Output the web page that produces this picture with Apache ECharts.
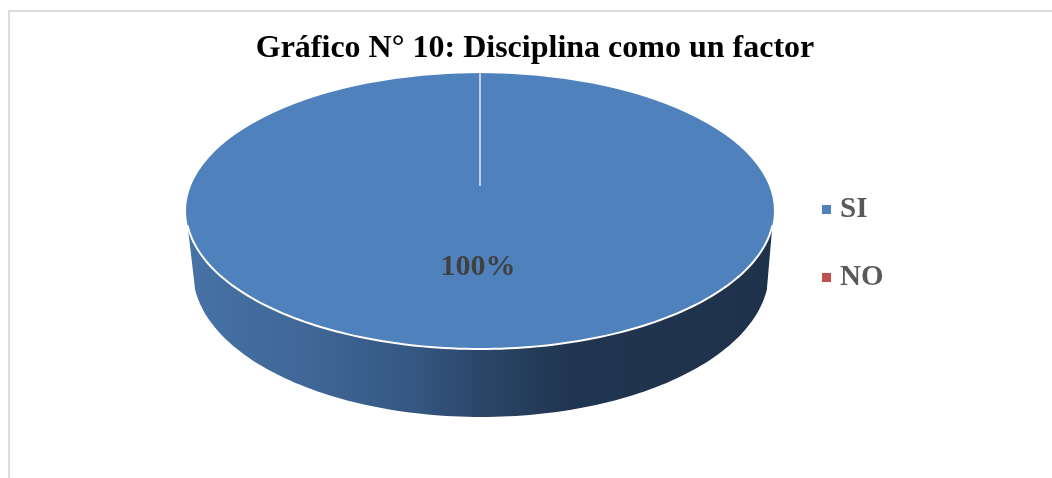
<!DOCTYPE html>
<html><head><meta charset="utf-8">
<style>html,body{margin:0;padding:0;background:#fff}#c{width:1052px;height:478px}</style>
<script src="https://cdn.jsdelivr.net/npm/echarts@6/dist/echarts.min.js"></script>
</head><body><div id="c"></div>
<script>
const titleText = 'Gráfico N° 10: Disciplina como un factor';
const categories = ['SI', 'NO'];
const values = [100, 0];
const sliceColors = ['#4f81bd', '#c0504d'];

const total = values.reduce((a, b) => a + b, 0);
const top3d = { cx: 480, cy: 211, rx: 294, ry: 138 };
const bottom3d = { cx: 481, cy: 272, rx: 288, ry: 145 };
const rimFrom = 6 * Math.PI / 180;
const rimBottomFrom = 7 * Math.PI / 180;
const startAt = -Math.PI / 2;

function arcPoints(e, a0, a1, n) {
  const pts = [];
  for (let i = 0; i <= n; i++) {
    const a = a0 + (a1 - a0) * i / n;
    pts.push([e.cx + e.rx * Math.cos(a), e.cy + e.ry * Math.sin(a)]);
  }
  return pts;
}
function sliceRange(idx) {
  let before = 0;
  for (let i = 0; i < idx; i++) before += values[i];
  const a0 = startAt + before / total * Math.PI * 2;
  return [a0, a0 + values[idx] / total * Math.PI * 2];
}

function renderSlice(idx) {
  return function (params, api) {
    const value = api.value(0);
    if (!value) return { type: 'group', children: [] };
    const [a0, a1] = sliceRange(idx);
    const children = [];
    const f0 = Math.max(a0, rimFrom), f1 = Math.min(a1, Math.PI - rimFrom);
    if (f1 > f0) {
      const upper = arcPoints(top3d, f0, f1, 120);
      const lower = arcPoints(bottom3d, Math.max(a0, rimBottomFrom), Math.min(a1, Math.PI - rimBottomFrom), 120).reverse();
      children.push({
        type: 'polygon', shape: { points: upper.concat(lower) },
        style: {
          fill: new echarts.graphic.LinearGradient(0, 0, 1, 0, [
            { offset: 0, color: '#4672a6' },
            { offset: 0.2, color: '#406797' },
            { offset: 0.38, color: '#355883' },
            { offset: 0.5, color: '#2b4669' },
            { offset: 0.66, color: '#20354f' },
            { offset: 1, color: '#1f324c' }
          ])
        }
      });
    }
    children.push({
      type: 'sector', x: top3d.cx, y: top3d.cy, scaleY: top3d.ry / top3d.rx,
      shape: { cx: 0, cy: 0, r0: 0, r: top3d.rx, startAngle: a0, endAngle: a1, clockwise: true },
      style: { fill: sliceColors[idx] }
    });
    if (f1 > f0) {
      children.push({
        type: 'polyline', shape: { points: arcPoints(top3d, f0, f1, 120) },
        style: { fill: null, stroke: '#fff', lineWidth: 2 }
      });
    }
    children.push({
      type: 'line',
      shape: { x1: top3d.cx + top3d.rx * Math.cos(a0), y1: top3d.cy + top3d.ry * Math.sin(a0), x2: top3d.cx, y2: 186 },
      style: { stroke: '#fff', lineWidth: 1.3 }
    });
    children.push({
      type: 'text', x: 478, y: 267,
      style: {
        text: Math.round(value / total * 100) + '%',
        font: 'bold 30px "Liberation Serif"', fill: '#404040',
        textAlign: 'center', textVerticalAlign: 'middle'
      }
    });
    return { type: 'group', children };
  };
}

const chart = echarts.init(document.getElementById('c'), null, { renderer: 'canvas' });
chart.setOption({
  animation: false,
  backgroundColor: '#fff',
  title: {
    text: titleText, left: 530, top: 28, textAlign: 'center',
    textStyle: { fontFamily: 'Liberation Serif', fontWeight: 'bold', fontSize: 32, color: '#000' }
  },
  legend: {
    orient: 'vertical', left: 822, top: 195, padding: 0, icon: 'rect', itemWidth: 9, itemHeight: 9,
    itemGap: 39, data: categories,
    textStyle: { fontFamily: 'Liberation Serif', fontWeight: 'bold', fontSize: 29, color: '#595959', padding: [6, 0, 0, 4] }
  },
  graphic: [{
    type: 'polyline', silent: true, z: -1,
    shape: { points: [[9, 478], [9, 11], [1052, 11]] },
    style: { fill: null, stroke: '#dcdcdc', lineWidth: 2 }
  }],
  series: categories.map((name, i) => ({
    type: 'custom', name, coordinateSystem: 'none',
    itemStyle: { color: sliceColors[i] },
    data: [[values[i]]],
    renderItem: renderSlice(i)
  }))
});
</script></body></html>
